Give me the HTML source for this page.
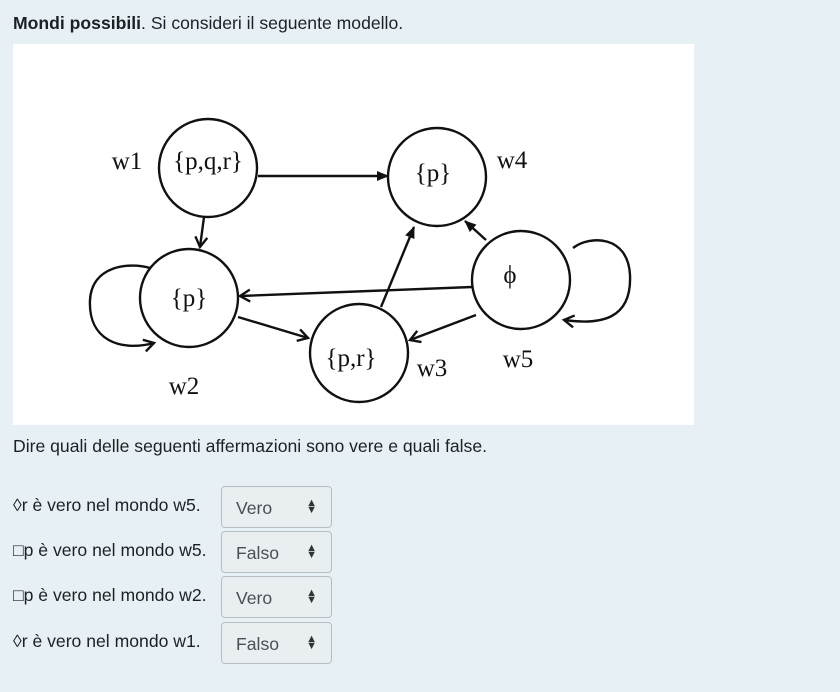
<!DOCTYPE html>
<html><head><meta charset="utf-8"><style>
body{margin:0;width:840px;height:692px;background:#e7f0f4;font-family:"Liberation Sans",sans-serif;color:#1d2125;position:relative;overflow:hidden}
.t{position:absolute;font-size:17.6px;white-space:nowrap}
.sel{position:absolute;left:221px;width:111px;height:42px;border:1px solid #b8bdc2;border-radius:4px;background:#e9eef1;box-sizing:border-box;font-size:17.6px;color:#4a4f54}
.sel span{position:absolute;left:14px;top:11px}
.sel i{position:absolute;right:14px;top:13px;font-style:normal;font-size:11px;line-height:7px;color:#333}
</style></head><body>
<div class="t" style="left:13px;top:13px"><b>Mondi possibili</b>. Si consideri il seguente modello.</div>
<svg style="position:absolute;left:0;top:0" width="840" height="692">
<defs><marker id="a" markerWidth="12" markerHeight="10" refX="11" refY="5" orient="auto" markerUnits="userSpaceOnUse"><path d="M0,0 L12,5 L0,10 Z" fill="#111"/></marker>
<marker id="b" markerWidth="14" markerHeight="14" refX="11" refY="7" orient="auto" markerUnits="userSpaceOnUse"><path d="M1,1 L11,7 L1,13" fill="none" stroke="#111" stroke-width="2.4"/></marker></defs>
<rect x="13" y="44" width="681" height="381" fill="#fff"/>
<g fill="none" stroke="#111" stroke-width="2.4">
<circle cx="208" cy="168" r="49"/>
<circle cx="437" cy="177" r="49"/>
<circle cx="189" cy="298" r="49"/>
<circle cx="359" cy="353" r="49"/>
<circle cx="521" cy="280" r="49"/>
<line x1="258" y1="176" x2="388" y2="176" marker-end="url(#a)"/>
<line x1="204" y1="217" x2="200" y2="247" marker-end="url(#b)"/>
<line x1="472" y1="287" x2="240" y2="296" marker-end="url(#b)"/>
<line x1="238" y1="317" x2="308" y2="338" marker-end="url(#b)"/>
<line x1="381" y1="307" x2="414" y2="227" marker-end="url(#a)"/>
<line x1="486" y1="240" x2="465" y2="221" marker-end="url(#a)"/>
<line x1="476" y1="315" x2="410" y2="340" marker-end="url(#b)"/>
<path d="M150,268 C130,262 92,265 90,300 C88,340 120,352 154,343" marker-end="url(#b)"/>
<path d="M573,248 C590,235 628,235 630,275 C632,320 600,325 564,320" marker-end="url(#b)"/>
</g>
<g font-family="Liberation Serif,serif" font-size="25" fill="#111" text-anchor="middle">
<text x="127" y="169">w1</text>
<text x="208" y="169">{p,q,r}</text>
<text x="433" y="181">{p}</text>
<text x="512" y="168">w4</text>
<text x="189" y="306">{p}</text>
<text x="184" y="394">w2</text>
<text x="351" y="366">{p,r}</text>
<text x="432" y="376">w3</text>
<text x="510" y="283">ϕ</text>
<text x="518" y="367">w5</text>
</g>
</svg>
<div class="t" style="left:13px;top:436px">Dire quali delle seguenti affermazioni sono vere e quali false.</div>
<div class="t" style="left:13px;top:495px">◊r è vero nel mondo w5.</div>
<div class="sel" style="top:486px"><span>Vero</span><i>▲<br>▼</i></div>
<div class="t" style="left:13px;top:540px">□p è vero nel mondo w5.</div>
<div class="sel" style="top:531px"><span>Falso</span><i>▲<br>▼</i></div>
<div class="t" style="left:13px;top:585px">□p è vero nel mondo w2.</div>
<div class="sel" style="top:576px"><span>Vero</span><i>▲<br>▼</i></div>
<div class="t" style="left:13px;top:631px">◊r è vero nel mondo w1.</div>
<div class="sel" style="top:622px"><span>Falso</span><i>▲<br>▼</i></div>
</body></html>
